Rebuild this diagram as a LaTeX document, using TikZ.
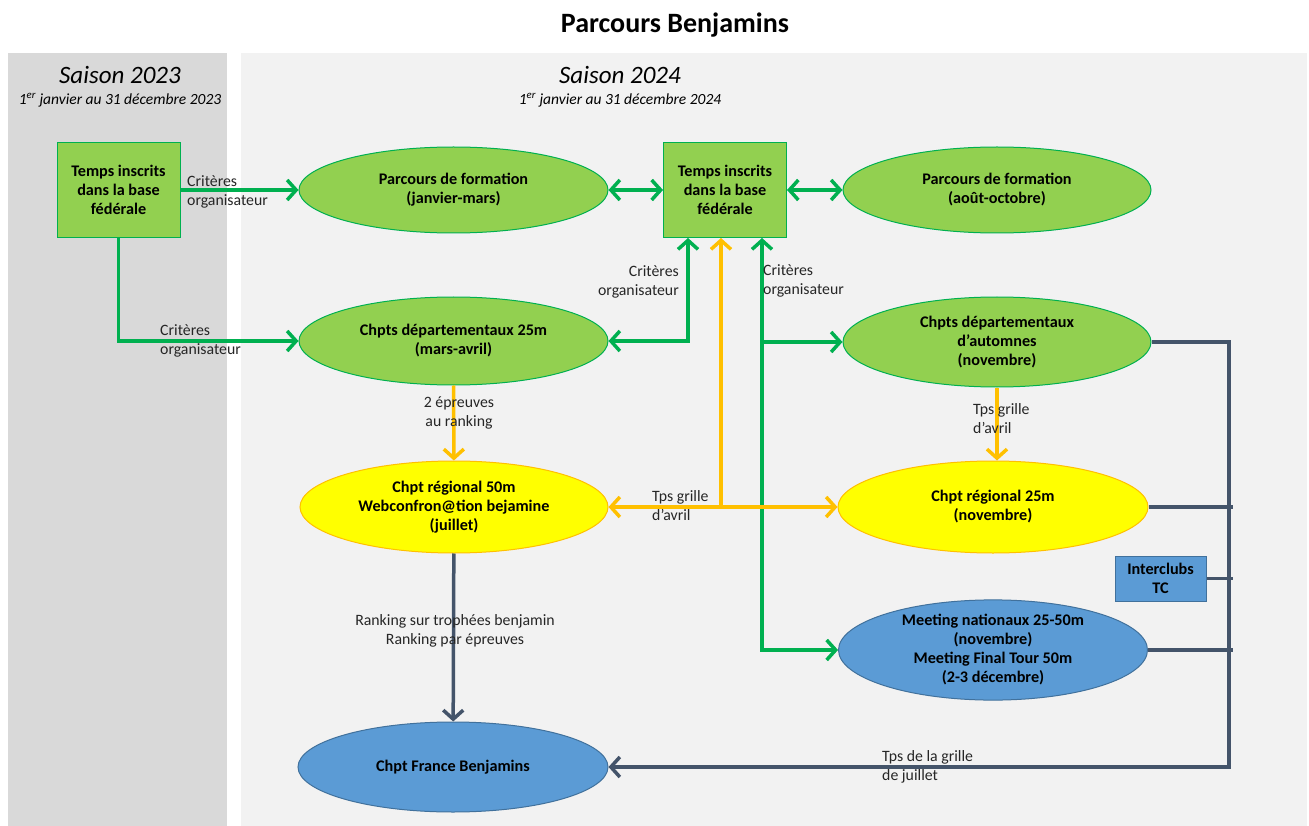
\documentclass[tikz,border=0pt]{standalone}
\usepackage{fontspec}
\setmainfont{Carlito}
\usepackage{xcolor}
\definecolor{VertClair}{HTML}{92D050}
\definecolor{VertFonce}{HTML}{00B050}
\definecolor{Jaune}{HTML}{FFFF00}
\definecolor{JauneOr}{HTML}{FFC000}
\definecolor{Bleu}{HTML}{5B9BD5}
\definecolor{BleuFonce}{HTML}{41719C}
\definecolor{Ardoise}{HTML}{44546A}
\definecolor{GrisFonce}{HTML}{D9D9D9}
\definecolor{GrisClair}{HTML}{F2F2F2}
\usetikzlibrary{shapes.geometric}
\usetikzlibrary{arrows.meta}
\tikzset{
  texte/.style={font=\fontsize{15.8}{19}\selectfont, text=black!85, align=left, inner sep=0pt},
  gras/.style={font=\bfseries\fontsize{16.2}{19}\selectfont, align=center},
  carre/.style={gras, draw=VertFonce, fill=VertClair, line width=1pt, minimum width=123pt, minimum height=95pt},
  ovale/.style={gras, ellipse, line width=1pt, inner sep=0pt},
  ovalvert/.style={ovale, draw=VertFonce, fill=VertClair},
  ovaljaune/.style={ovale, draw=JauneOr, fill=Jaune},
  ovalbleu/.style={ovale, draw=BleuFonce, fill=Bleu},
  flvert/.style={draw=VertFonce, line width=3.5pt},
  fljaune/.style={draw=JauneOr, line width=3.5pt},
  flgris/.style={draw=Ardoise, line width=3.5pt}
}

\begin{document}
\begin{tikzpicture}[x=1pt, y=-1pt, >={Straight Barb[length=9pt,width=20pt]}]
\useasboundingbox[fill=white] (0,0) rectangle (1309,826);
\fill[GrisFonce] (8,53) rectangle (227,826);
\fill[GrisClair] (241,53) rectangle (1307,826);

\node (titre) at (675,25) {\bfseries\fontsize{28}{32}\selectfont Parcours Benjamins};
\node (s23) at (120,75) {\itshape\fontsize{25}{28}\selectfont Saison 2023};
\node (d23) at (120,100) {\itshape\fontsize{15.5}{17}\selectfont 1\textsuperscript{er} janvier au 31 décembre 2023};
\node (s24) at (620,75) {\itshape\fontsize{25}{28}\selectfont Saison 2024};
\node (d24) at (620,100) {\itshape\fontsize{15.5}{17}\selectfont 1\textsuperscript{er} janvier au 31 décembre 2024};

\node[carre] (t23) at (118.5,190) {Temps inscrits\\dans la base\\fédérale};
\node[carre] (t24) at (725,190) {Temps inscrits\\dans la base\\fédérale};
\node[ovalvert, minimum width=309pt, minimum height=86pt] (pf1) at (453.5,190) {Parcours de formation\\(janvier-mars)};
\node[ovalvert, minimum width=308pt, minimum height=86pt] (pf2) at (997,190) {Parcours de formation\\(août-octobre)};
\node[ovalvert, minimum width=309pt, minimum height=88pt] (cd1) at (453.5,341) {Chpts départementaux 25m\\(mars-avril)};
\node[ovalvert, minimum width=308pt, minimum height=90pt] (cd2) at (997,342) {Chpts départementaux\\d’automnes\\(novembre)};
\node[ovaljaune, minimum width=308pt, minimum height=92pt] (r1) at (454,507) {Chpt régional 50m\\Webconfron@tion bejamine\\(juillet)};
\node[ovaljaune, minimum width=310pt, minimum height=92pt] (r2) at (993,507) {Chpt régional 25m\\(novembre)};
\node[gras, draw=BleuFonce, fill=Bleu, line width=1pt, minimum width=91pt, minimum height=45pt, inner sep=1pt] (ic) at (1160.5,578.5) {Interclubs\\TC};
\node[ovalbleu, minimum width=309pt, minimum height=91pt] (mt) at (993,650) {Meeting nationaux 25-50m\\(novembre)\\Meeting Final Tour 50m\\(2-3 décembre)};
\node[ovalbleu, minimum width=310pt, minimum height=90pt] (fr) at (453,767) {Chpt France Benjamins};

\coordinate (gg) at ([xshift=-37pt]t24.south);
\coordinate (gj) at ([xshift=-4pt]t24.south);
\coordinate (gd) at ([xshift=37pt]t24.south);
\coordinate (bas) at (1229,767);

\draw[flvert,->] (t23) -- (pf1);
\draw[flvert,->] (t23.south) |- (cd1.west);
\draw[flvert,<->] (pf1) -- (t24);
\draw[flvert,<->] (t24) -- (pf2);
\draw[flvert,<->] (gg) |- (cd1.east);
\draw[flvert,<->] (gd) |- (mt.west);
\draw[flvert,->] (gd |- cd2.west) -- (cd2.west);

\draw[fljaune,->] (cd1) -- (r1);
\draw[fljaune,->] (cd2.south) -- (cd2.south |- r2.north);
\draw[fljaune,<->] (r1) -- (r2);
\draw[fljaune,->] (gj |- r1.east) -- (gj);

\draw[flgris,->] (r1) -- (fr);
\draw[flgris,->] (cd2.east) -| (bas) -- (fr.east);
\draw[flgris] (r2.east) -- ([xshift=4pt]r2.east -| bas);
\draw[flgris] (ic.east) -- ([xshift=4pt]ic.east -| bas);
\draw[flgris] (mt.east) -- ([xshift=4pt]mt.east -| bas);

\node[texte, anchor=west] (l1) at (187,192) {Critères\\organisateur};
\node[texte, anchor=west] (l2) at (160,341) {Critères\\organisateur};
\node[texte, anchor=east, align=right] (l3) at (679,282) {Critères\\organisateur};
\node[texte, anchor=west] (l4) at (763,281) {Critères\\organisateur};
\node[texte, align=center] (l5) at (459,413) {2 épreuves\\au ranking};
\node[texte, anchor=west] (l6) at (652,506) {Tps grille\\d’avril};
\node[texte, anchor=west] (l7) at (973,419) {Tps grille\\d’avril};
\node[texte, align=center] (l8) at (455,631) {Ranking sur trophées benjamin\\Ranking par épreuves};
\node[texte, anchor=west] (l9) at (882,767) {Tps de la grille\\de juillet};
\end{tikzpicture}
\end{document}
